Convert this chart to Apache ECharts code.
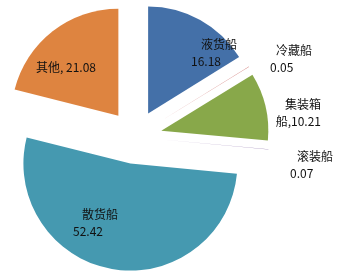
<!DOCTYPE html>
<html><head><meta charset="utf-8">
<script src="https://cdn.jsdelivr.net/npm/echarts@6/dist/echarts.min.js"></script>
<style>html,body{margin:0;padding:0;background:#fff}#c{width:340px;height:274px}</style>
</head><body><div id="c"></div>
<script>
const categories = ['液货船','冷藏船','集装箱船','滚装船','散货船','其他'];
const values = [16.18, 0.05, 10.21, 0.07, 52.42, 21.08];
const colors = ['#4470A8','#C0504D','#88A84A','#8064A2','#4599B0','#DE8440'];
// label layout: [x, y, align, first-line indent]
const labelPos = [
  [191, 36, 'left', 10],
  [270, 42, 'left', 6],
  [321, 96, 'right', 0],
  [290, 148, 'left', 7],
  [73, 206, 'left', 9],
  [36, 59, 'left', 0]
];
function fmt(p){
  const i = p.dataIndex, n = p.name, v = p.value.toFixed(2);
  const pad = labelPos[i][3];
  if (i === 5) return '{p0|' + n + ', ' + v + '}';
  if (i === 2) return '{p0|' + n.slice(0,3) + '}\n{p0|' + n.slice(3) + ',' + v + '}';
  return '{p' + pad + '|' + n + '}\n{p0|' + v + '}';
}
const rich = {};
[0,6,7,9,10].forEach(k => { rich['p'+k] = {padding:[0,0,0,k], lineHeight:17, fontSize:12, color:'#111', fontFamily:'"Noto Sans CJK SC", sans-serif'}; });
const base = {
  type:'pie', center:[135,137], radius:107, startAngle:90, clockwise:true,
  avoidLabelOverlap:false, emphasis:{disabled:true}, labelLine:{show:false}
};
const chart = echarts.init(document.getElementById('c'), null, {renderer:'canvas'});
chart.setOption({
  animation:false,
  series:[
    Object.assign({}, base, {
      selectedMode:'multiple',
      selectedOffset:27,
      itemStyle:{borderWidth:0},
      label:{show:false},
      data: categories.map((c,i)=>({name:c, value:values[i], selected:true, itemStyle:{color:colors[i]}}))
    }),
    Object.assign({}, base, {
      silent:true,
      selectedMode:false,
      itemStyle:{color:'rgba(0,0,0,0)', borderWidth:0},
      label:{show:true, position:'inside', formatter:fmt, rich:rich, fontSize:12, color:'#111'},
      labelLayout:function(params){
        const p = labelPos[params.dataIndex];
        return {x:p[0], y:p[1], align:p[2], verticalAlign:'top'};
      },
      data: categories.map((c,i)=>({name:c, value:values[i]}))
    })
  ]
});
</script></body></html>
